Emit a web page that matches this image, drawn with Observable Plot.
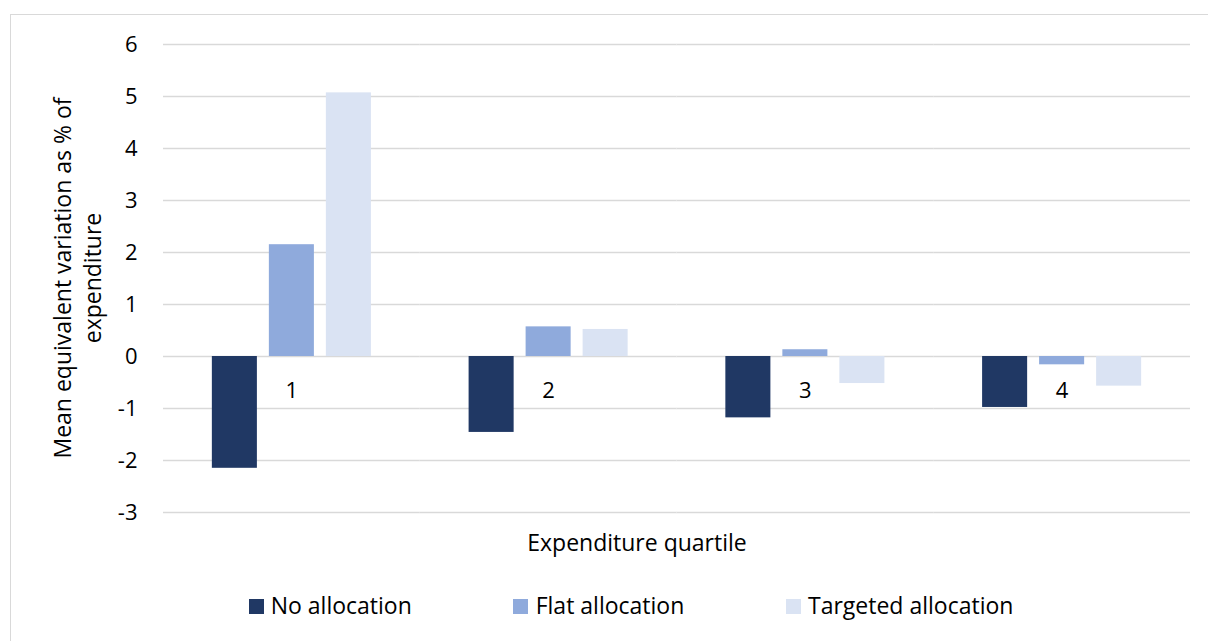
<!DOCTYPE html>
<html>
<head>
<meta charset="utf-8">
<script src="https://cdn.jsdelivr.net/npm/d3@7"></script>
<script src="https://cdn.jsdelivr.net/npm/@observablehq/plot@0.6"></script>
<style>
  html, body { margin: 0; padding: 0; background: #fff; overflow: hidden; }
  #wrap { position: relative; width: 1208px; height: 641px; font-family: "Open Sans", sans-serif; color: #000; }
  #frame { position: absolute; left: 10px; top: 14px; width: 1220px; height: 660px; border: 1.3px solid #d9d9d9; box-sizing: border-box; }
  #chart { position: absolute; left: 0; top: 0; }
  .lbl { position: absolute; font-size: 23px; line-height: 23px; white-space: nowrap; }
  #ylabel { position: absolute; left: -133px; top: 248px; width: 420px; height: 60px; font-size: 23px; line-height: 30px; text-align: center; transform: rotate(-90deg); transform-origin: center; }
  .sw { position: absolute; width: 15px; height: 15px; }
</style>
</head>
<body>
<div id="wrap">
  <div id="frame"></div>
  <div id="chart"></div>
</div>
<script>
const quartiles = ["1", "2", "3", "4"];
const series = ["No allocation", "Flat allocation", "Targeted allocation"];
const noAllocation = [-2.15, -1.46, -1.18, -0.98];
const flatAllocation = [2.15, 0.57, 0.13, -0.16];
const targetedAllocation = [5.07, 0.52, -0.52, -0.57];
const yTicks = [-3, -2, -1, 0, 1, 2, 3, 4, 5, 6];
const colors = ["#203864", "#8faadc", "#dae3f3"];
const xTitle = "Expenditure quartile";
const yTitle = ["Mean equivalent variation as % of", "expenditure"];

const seriesValues = [noAllocation, flatAllocation, targetedAllocation];
const data = [];
quartiles.forEach((q, i) => {
  series.forEach((s, j) => data.push({q, s, v: seriesValues[j][i]}));
});

const plot = Plot.plot({
  width: 1208,
  height: 641,
  marginLeft: 163,
  marginRight: 18,
  marginTop: 44,
  marginBottom: 129,
  style: {fontFamily: "Open Sans, sans-serif", fontSize: "22px", color: "#000", background: "transparent"},
  fx: {domain: quartiles, padding: 0, round: false, axis: null},
  x: {domain: series, paddingInner: 0.21, paddingOuter: 0.857, round: false, axis: null},
  y: {domain: [-3, 6], ticks: yTicks, tickSize: 0, tickPadding: 26, tickFormat: d => String(d), label: null},
  color: {domain: series, range: colors},
  marks: [
    Plot.ruleY(yTicks, {stroke: "#d9d9d9", strokeWidth: 1.4}),
    Plot.barY(data, {fx: "q", x: "s", y: "v", fill: "s"}),
    Plot.text(quartiles, {fx: d => d, y: () => 0, text: d => d, dy: 34.5, fontSize: 22, fill: "#000"})
  ]
});
document.getElementById("chart").appendChild(plot);

const wrap = document.getElementById("wrap");
// x title
const xt = document.createElement("div");
xt.className = "lbl";
xt.textContent = xTitle;
xt.style.left = "637px";
xt.style.top = "530.6px";
xt.style.transform = "translateX(-50%)";
wrap.appendChild(xt);
// y title
const yt = document.createElement("div");
yt.id = "ylabel";
yt.innerHTML = yTitle.map(t => `<div>${t}</div>`).join("");
wrap.appendChild(yt);
// legend
const legendSwatchX = [249, 513, 786];
const legendTextX = [270.7, 535.7, 808];
series.forEach((s, j) => {
  const sw = document.createElement("div");
  sw.className = "sw";
  sw.style.left = legendSwatchX[j] + "px";
  sw.style.top = "598.5px";
  sw.style.background = colors[j];
  wrap.appendChild(sw);
  const t = document.createElement("div");
  t.className = "lbl";
  t.textContent = s;
  t.style.left = legendTextX[j] + "px";
  t.style.top = "593.6px";
  wrap.appendChild(t);
});
</script>
</body>
</html>
